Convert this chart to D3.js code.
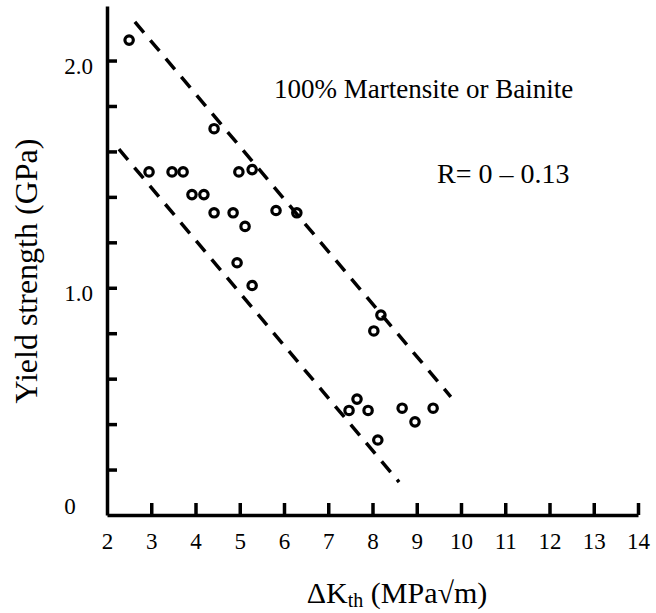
<!DOCTYPE html>
<html>
<head>
<meta charset="utf-8">
<script src="https://cdn.jsdelivr.net/npm/d3@7"></script>
<style>
  html, body { margin: 0; padding: 0; background: #fff; }
  svg { display: block; }
  text { font-family: "Liberation Serif", "Times New Roman", serif; fill: #000; }
</style>
</head>
<body>
<svg id="chart" width="656" height="613" font-family="Liberation Serif, Times New Roman, serif"></svg>
<script>
// Threshold stress-intensity range vs. yield strength (martensitic / bainitic steels)
const deltaK = [2.50, 4.42, 2.95, 3.47, 3.72, 4.98, 5.28, 3.92, 4.19, 4.42, 4.85, 5.12, 5.82, 6.29, 4.94, 5.28,
                8.19, 8.03, 7.65, 7.47, 7.90, 8.67, 8.96, 9.37, 8.12];
const yieldStrength = [2.09, 1.70, 1.51, 1.51, 1.51, 1.51, 1.52, 1.41, 1.41, 1.33, 1.33, 1.27, 1.34, 1.33, 1.11, 1.01,
                       0.88, 0.81, 0.51, 0.46, 0.46, 0.47, 0.41, 0.47, 0.33];

// Upper and lower scatter-band bounds: [ΔK, yield strength] end points
const upperBound = [[2.63, 2.17], [9.77, 0.52]];
const lowerBound = [[2.27, 1.61], [8.60, 0.145]];

const xTickValues = [2, 3, 4, 5, 6, 7, 8, 9, 10, 11, 12, 13, 14];
const yTickValues = [0, 0.2, 0.4, 0.6, 0.8, 1.0, 1.2, 1.4, 1.6, 1.8, 2.0];
const yTickLabels = { 0: "0", 1: "1.0", 2: "2.0" };

const serif = "'Liberation Serif', 'Times New Roman', serif";
const svg = d3.select("#chart");

const x = d3.scaleLinear().domain([2, 14]).range([107, 638]);
const y = d3.scaleLinear().domain([0, 2.24]).range([515, 6]);

// X axis: ticks point into the plot, labels below
const xAxis = svg.append("g")
  .attr("transform", `translate(0,${y(0)})`)
  .call(d3.axisBottom(x).tickValues(xTickValues).tickSizeInner(-12).tickSizeOuter(0).tickPadding(0)
        .tickFormat(d3.format("d")));
xAxis.attr("font-family", serif);
xAxis.select(".domain").attr("stroke", "#000").attr("stroke-width", 3.5);
xAxis.selectAll(".tick line").attr("stroke", "#000").attr("stroke-width", 3.5)
  .filter(d => d === 2).remove();
xAxis.selectAll(".tick text")
  .attr("dy", null).attr("y", 34)
  .style("font-family", serif)
  .style("font-size", "23px").attr("fill", "#000");

// Y axis: ticks point into the plot
const yAxis = svg.append("g")
  .attr("transform", `translate(${x(2)},0)`)
  .call(d3.axisLeft(y).tickValues(yTickValues).tickSizeInner(-10).tickSizeOuter(0).tickPadding(0)
        .tickFormat(d => yTickLabels[Math.round(d * 10) / 10] || ""));
yAxis.attr("font-family", serif);
yAxis.select(".domain").attr("stroke", "#000").attr("stroke-width", 3.5);
yAxis.selectAll(".tick line").attr("stroke", "#000").attr("stroke-width", 3.5)
  .filter(d => d === 0).remove();
yAxis.selectAll(".tick text")
  .attr("x", -14).attr("dy", "0.55em")
  .style("font-family", serif)
  .style("font-size", "23px").attr("fill", "#000");
yAxis.selectAll(".tick text").filter(d => d === 0)
  .attr("text-anchor", "middle").attr("x", -37).attr("dy", "-0.05em");

// Scatter-band bounds
const line = d3.line().x(d => x(d[0])).y(d => y(d[1]));
svg.selectAll("path.band")
  .data([upperBound, lowerBound])
  .join("path")
  .attr("class", "band")
  .attr("d", line)
  .attr("fill", "none")
  .attr("stroke", "#000")
  .attr("stroke-width", 3.5)
  .attr("stroke-dasharray", "14,10");

// Data points
svg.selectAll("circle.pt")
  .data(deltaK.map((k, i) => [k, yieldStrength[i]]))
  .join("circle")
  .attr("class", "pt")
  .attr("cx", d => x(d[0]))
  .attr("cy", d => y(d[1]))
  .attr("r", 4.2)
  .attr("fill", "none")
  .attr("stroke", "#000")
  .attr("stroke-width", 3.2);

// Annotations
svg.append("text")
  .attr("x", 274).attr("y", 98)
  .style("font-family", serif)
  .style("font-size", "27px")
  .text("100% Martensite or Bainite");
svg.append("text")
  .attr("x", 437).attr("y", 183)
  .style("font-family", serif)
  .style("font-size", "28px")
  .text("R= 0 \u2013 0.13");

// Axis titles
const xTitle = svg.append("text")
  .attr("x", 397).attr("y", 603)
  .attr("text-anchor", "middle")
  .style("font-family", serif)
  .style("font-size", "30px");
xTitle.append("tspan").text("\u0394K");
xTitle.append("tspan").attr("dy", 4).style("font-size", "20px").text("th");
xTitle.append("tspan").attr("dy", -4).text(" (MPa\u221Am)");

svg.append("text")
  .attr("transform", "translate(37,271) rotate(-90)")
  .attr("text-anchor", "middle")
  .style("font-family", serif)
  .style("font-size", "32px")
  .text("Yield strength (GPa)");
</script>
</body>
</html>
